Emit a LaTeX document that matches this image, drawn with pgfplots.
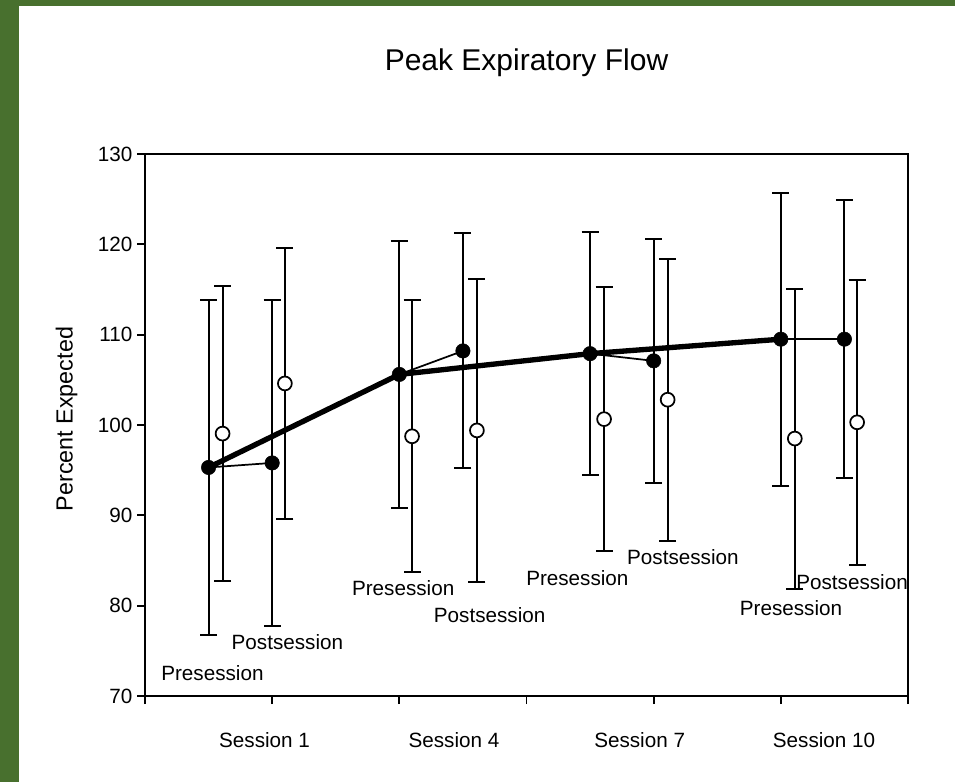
\documentclass[border=0pt]{standalone}
\usepackage{fontspec}
\setmainfont{Liberation Sans}
\usepackage{pgfplots}
\pgfplotsset{compat=1.18}
\definecolor{bordergreen}{RGB}{72,112,46}
\begin{document}
\begin{tikzpicture}
\useasboundingbox (0,0) rectangle (716.25pt,586.5pt);
\fill[bordergreen] (0,0) rectangle (716.25pt,586.5pt);
\fill[white] (14.25pt,0) rectangle (716.25pt,582pt);
\begin{axis}[
  at={(108.75pt,64.5pt)}, anchor=south west,
  scale only axis, width=572.25pt, height=406.5pt,
  xmin=0, xmax=6, ymin=70, ymax=130,
  xtick={0,...,6}, xticklabels={},
  ytick={70,80,...,130},
  xtick pos=left, ytick pos=left,
  tick align=outside, major tick length=6pt,
  minor tick num=0,
  axis line style={line width=1.3pt},
  every tick/.style={line width=1.3pt, black},
  /pgf/number format/assume math mode=true,
  yticklabel style={font=\fontsize{15.5}{18}\selectfont},
  extra x ticks={0.94,2.43,3.89,5.34},
  extra x tick labels={Session 1,Session 4,Session 7,Session 10},
  extra x tick style={major tick length=0pt, xticklabel style={anchor=base, yshift=-38.25pt, font=\fontsize{15.5}{18}\selectfont}},
  title={Peak Expiratory Flow},
  title style={font=\fontsize{22.5}{27}\selectfont, at={(0.5,1)}, anchor=base, yshift=57pt},
  ylabel={Percent Expected},
  ylabel style={font=\fontsize{17.5}{21}\selectfont, at={(axis description cs:-0.1029,0.511)}, anchor=center},
  clip=false,
]
% session connecting thin lines
\addplot[black, line width=1.3pt] coordinates {(0.5,95.3) (1.0,95.8)};
\addplot[black, line width=1.3pt] coordinates {(2.0,105.6) (2.5,108.2)};
\addplot[black, line width=1.3pt] coordinates {(3.5,107.9) (4.0,107.1)};
\addplot[black, line width=1.3pt] coordinates {(5.0,109.5) (5.5,109.5)};
% thick presession trend line
\addplot[black, line width=4pt, line join=round] coordinates {(0.5,95.3) (2.0,105.6) (3.5,107.9) (5.0,109.5)};
% filled circles
\addplot[black, only marks, mark=*, mark size=5.4pt, mark options={fill=black, solid},
  error bars/.cd, y dir=both, y explicit,
  error bar style={line width=1.5pt, black},
  error mark=-,
  error mark options={rotate=90, line width=1.5pt, mark size=6.4pt, black}]
coordinates {
(0.5,95.3) +- (0,18.5)
(1.0,95.8) +- (0,18.0)
(2.0,105.6) +- (0,14.8)
(2.5,108.2) +- (0,13.0)
(3.5,107.9) +- (0,13.45)
(4.0,107.1) +- (0,13.5)
(5.0,109.5) +- (0,16.2)
(5.5,109.5) +- (0,15.4)
};
% open circles
\addplot[black, only marks, mark=*, mark size=5.2pt, mark options={fill=white, draw=black, line width=1.3pt, solid},
  error bars/.cd, y dir=both, y explicit,
  error bar style={line width=1.5pt, black},
  error mark=-,
  error mark options={rotate=90, line width=1.5pt, mark size=6.4pt, black}]
coordinates {
(0.61,99.05) +- (0,16.35)
(1.10,104.6) +- (0,15.0)
(2.10,98.75) +- (0,15.05)
(2.61,99.4) +- (0,16.8)
(3.61,100.65) +- (0,14.65)
(4.11,102.8) +- (0,15.6)
(5.11,98.5) +- (0,16.6)
(5.60,100.3) +- (0,15.8)
};
\begin{scope}[font=\fontsize{15.5}{18}\selectfont]
\node at (axis cs:0.53,72.5) {Presession};
\node at (axis cs:1.12,76.0) {Postsession};
\node at (axis cs:2.03,81.9) {Presession};
\node at (axis cs:2.71,79.0) {Postsession};
\node at (axis cs:3.40,83.1) {Presession};
\node at (axis cs:4.23,85.4) {Postsession};
\node at (axis cs:5.08,79.7) {Presession};
\node at (axis cs:5.56,82.6) {Postsession};
\end{scope}
\end{axis}
\end{tikzpicture}
\end{document}
